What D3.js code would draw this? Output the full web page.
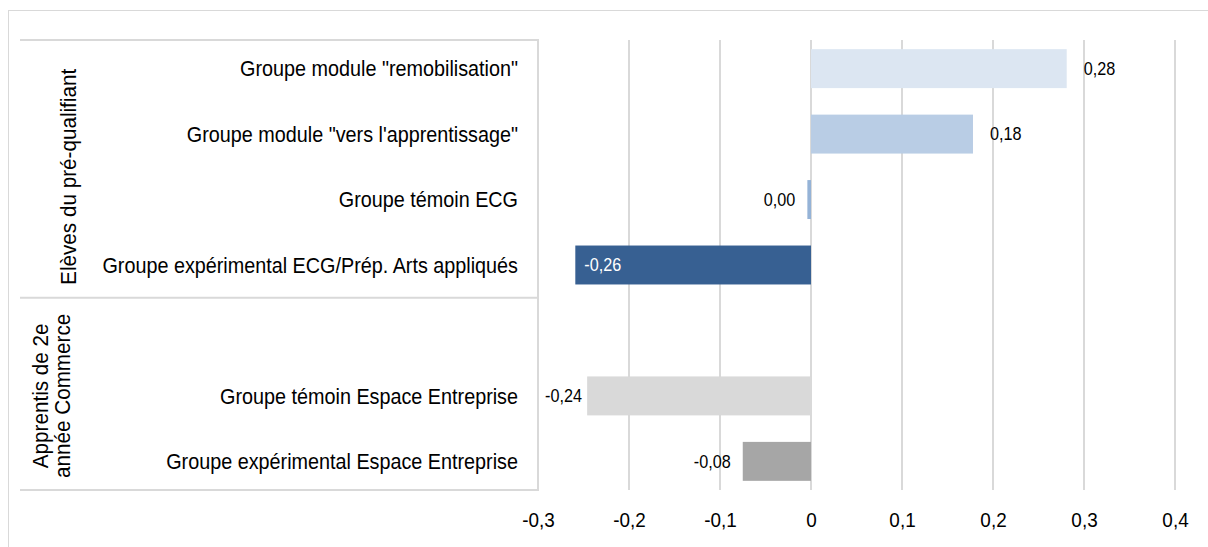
<!DOCTYPE html>
<html>
<head>
<meta charset="utf-8">
<script src="https://cdn.jsdelivr.net/npm/d3@7"></script>
<style>
  body { margin: 0; background: #fff; }
  text { font-family: "Liberation Sans", Arial, sans-serif; fill: #000; }
</style>
</head>
<body>
<script>
// data
var categories = [
  'Groupe module "remobilisation"',
  'Groupe module "vers l\'apprentissage"',
  "Groupe témoin ECG",
  "Groupe expérimental ECG/Prép. Arts appliqués",
  "",
  "Groupe témoin Espace Entreprise",
  "Groupe expérimental Espace Entreprise"
];
var values = [0.281, 0.178, -0.004, -0.259, null, -0.246, -0.075];
var valueLabels = ["0,28", "0,18", "0,00", "-0,26", "", "-0,24", "-0,08"];
var colors = ["#dce6f2", "#b9cde5", "#95b3d7", "#376092", "none", "#d9d9d9", "#a6a6a6"];
var groups = [["Elèves du pré-qualifiant"], ["Apprentis de 2e", "année Commerce"]];
var groupSizes = [4, 3];
var xTicks = [-0.3, -0.2, -0.1, 0, 0.1, 0.2, 0.3, 0.4];

var width = 1208, height = 547;
var plot = {left: 538, right: 1175, top: 40, bottom: 490};
var narrow = 0.9; // the source font is a narrow face, squeeze a regular one

var svg = d3.select("body").append("svg")
  .attr("width", width)
  .attr("height", height);

// outer chart frame (runs off the page)
svg.append("rect")
  .attr("x", 8.5).attr("y", 10.5)
  .attr("width", 1260).attr("height", 600)
  .attr("fill", "none")
  .attr("stroke", "#d9d9d9");

var x = d3.scaleLinear().domain([-0.3, 0.4]).range([plot.left, plot.right]);
var y = d3.scaleBand()
  .domain(d3.range(categories.length))
  .range([plot.top, plot.bottom])
  .paddingInner(0.405)
  .paddingOuter(0.14);

// gridlines
svg.append("g")
  .selectAll("line")
  .data(xTicks)
  .enter()
  .append("line")
  .attr("x1", function(d) { return Math.round(x(d)); })
  .attr("x2", function(d) { return Math.round(x(d)); })
  .attr("y1", plot.top)
  .attr("y2", plot.bottom)
  .attr("stroke", "#d9d9d9")
  .attr("stroke-width", 2);

// x axis labels
var xAxis = d3.axisBottom(x)
  .tickValues(xTicks)
  .tickSize(0)
  .tickPadding(0)
  .tickFormat(function(d) { return d === 0 ? "0" : d3.format(".1f")(d).replace(".", ",").replace("−", "-"); });

svg.append("g")
  .attr("transform", "translate(0," + (plot.bottom + 22) + ")")
  .call(xAxis)
  .call(function(g) { g.select(".domain").remove(); })
  .selectAll("text")
  .attr("font-size", 21)
  .attr("fill", "#000")
  .attr("transform", "scale(" + narrow + ",1)")
  .style("font-family", '"Liberation Sans", Arial, sans-serif');

// category table lines
var table = svg.append("g").attr("stroke", "#d9d9d9").attr("stroke-width", 2).attr("fill", "none");
var cut = y(groupSizes[0]) - y.step() * y.paddingInner() / 2;
[plot.top, cut, plot.bottom].forEach(function(yy) {
  table.append("line").attr("x1", 20).attr("x2", plot.left).attr("y1", yy).attr("y2", yy);
});
table.append("line").attr("x1", plot.left).attr("x2", plot.left).attr("y1", plot.top - 1).attr("y2", plot.bottom + 1);

var rows = values.map(function(v, i) { return {i: i, v: v}; })
  .filter(function(d) { return d.v !== null; });

// bars
svg.append("g")
  .selectAll("rect")
  .data(rows)
  .enter()
  .append("rect")
  .attr("x", function(d) { return x(Math.min(0, d.v)); })
  .attr("width", function(d) { return Math.abs(x(d.v) - x(0)); })
  .attr("y", function(d) { return y(d.i); })
  .attr("height", y.bandwidth())
  .attr("fill", function(d) { return colors[d.i]; });

// data labels
var inside = 3; // the dark bar carries its label inside
svg.append("g")
  .selectAll("text")
  .data(rows)
  .enter()
  .append("text")
  .attr("font-size", 18)
  .attr("dy", "0.35em")
  .attr("text-anchor", function(d) { return (d.v >= 0 || d.i === inside) ? "start" : "end"; })
  .attr("transform", function(d) {
    var px;
    if (d.i === inside) px = x(d.v) + 9;
    else if (d.v >= 0) px = x(d.v) + 17;
    else px = Math.max(x(d.v) - 12, plot.left + 44);
    return "translate(" + px + "," + (y(d.i) + y.bandwidth() / 2) + ") scale(" + narrow + ",1)";
  })
  .style("fill", function(d) { return d.i === inside ? "#fff" : "#000"; })
  .text(function(d) { return valueLabels[d.i]; });

// category labels
svg.append("g")
  .selectAll("text")
  .data(categories)
  .enter()
  .append("text")
  .attr("font-size", 22)
  .attr("text-anchor", "end")
  .attr("dy", "0.35em")
  .attr("transform", function(d, i) {
    return "translate(518," + (y(i) + y.bandwidth() / 2) + ") scale(" + narrow + ",1)";
  })
  .text(function(d) { return d; });

// group labels (rotated)
var gStart = plot.top;
groups.forEach(function(lines, gi) {
  var gEnd = gi === 0 ? cut : plot.bottom;
  var cy = (gStart + gEnd) / 2;
  var t = svg.append("text")
    .attr("font-size", 22)
    .attr("text-anchor", "middle")
    .attr("transform", "translate(" + (lines.length === 1 ? 76 : 48) + "," + (cy + (gi === 0 ? 8 : 2)) + ") rotate(-90) scale(0.94,1)");
  lines.forEach(function(l, li) {
    t.append("tspan").attr("x", 0).attr("dy", li === 0 ? 0 : "1.0em").text(l);
  });
  gStart = gEnd;
});
</script>
</body>
</html>
